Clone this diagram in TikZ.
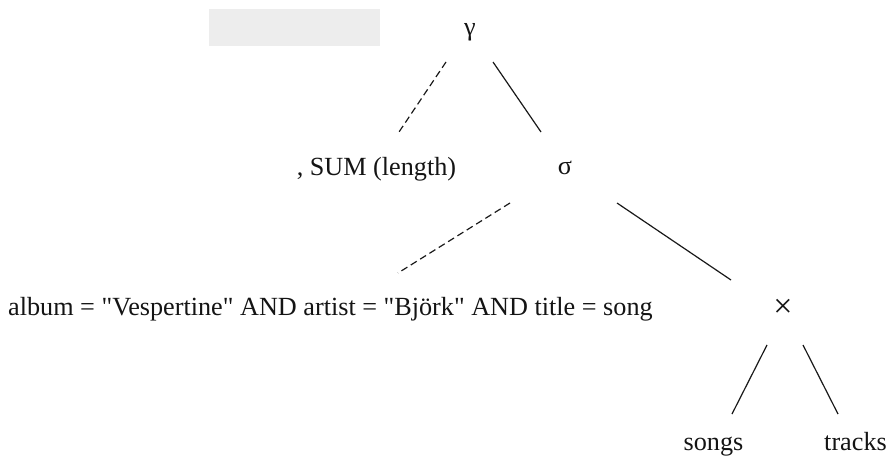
\documentclass[tikz,border=0pt]{standalone}
\usepackage{fontspec}
\setmainfont{Liberation Serif}
% plain font loads (no tex-text mapping, so " stays a straight quote)
\font\treefont="Liberation Serif" at 26.2pt
\font\crossfont="Liberation Serif" at 34pt
\begin{document}
\begin{tikzpicture}[x=1pt,y=-1pt,
  lbl/.style={inner sep=0pt, font=\treefont, text=black!92},
  edge/.style={line width=1.2pt, black!90},
  dashedge/.style={edge, dash pattern=on 7pt off 4pt}]
  \useasboundingbox (0,0) rectangle (892,463);

  % blank placeholder box beside the root
  \fill[black!7] (209,9) rectangle (380,46);

  % operator tree labels
  \node[lbl, anchor=base] (gamma) at (470,35) {γ};
  \node[lbl, anchor=base] (agg) at (376.5,175) {, SUM (length)};
  \node[lbl, anchor=base] (sigma) at (565,174) {σ};
  \node[lbl, anchor=base west] (cond) at (8,315) {album = "Vespertine" AND artist = "Björk" AND title = song};
  \node[lbl, font=\crossfont] (cross) at (783,308) {×};
  \node[lbl, anchor=base] (songs) at (713.5,450) {songs};
  \node[lbl, anchor=base] (tracks) at (855.5,450) {tracks};

  % connector end points
  \coordinate (gamma-l) at (446,62);
  \coordinate (agg-t) at (399,132);
  \coordinate (gamma-r) at (493,62);
  \coordinate (sigma-t) at (541,132);
  \coordinate (sigma-l) at (510,203);
  \coordinate (cond-t) at (398,273);
  \coordinate (sigma-r) at (617,203);
  \coordinate (cross-t) at (731,280);
  \coordinate (cross-l) at (767,345);
  \coordinate (songs-t) at (732,414);
  \coordinate (cross-r) at (803,345);
  \coordinate (tracks-t) at (838,414);

  % edges
  \draw[dashedge] (gamma-l) -- (agg-t);
  \draw[edge] (gamma-r) -- (sigma-t);
  \draw[dashedge] (sigma-l) -- (cond-t);
  \draw[edge] (sigma-r) -- (cross-t);
  \draw[edge] (cross-l) -- (songs-t);
  \draw[edge] (cross-r) -- (tracks-t);
\end{tikzpicture}
\end{document}
